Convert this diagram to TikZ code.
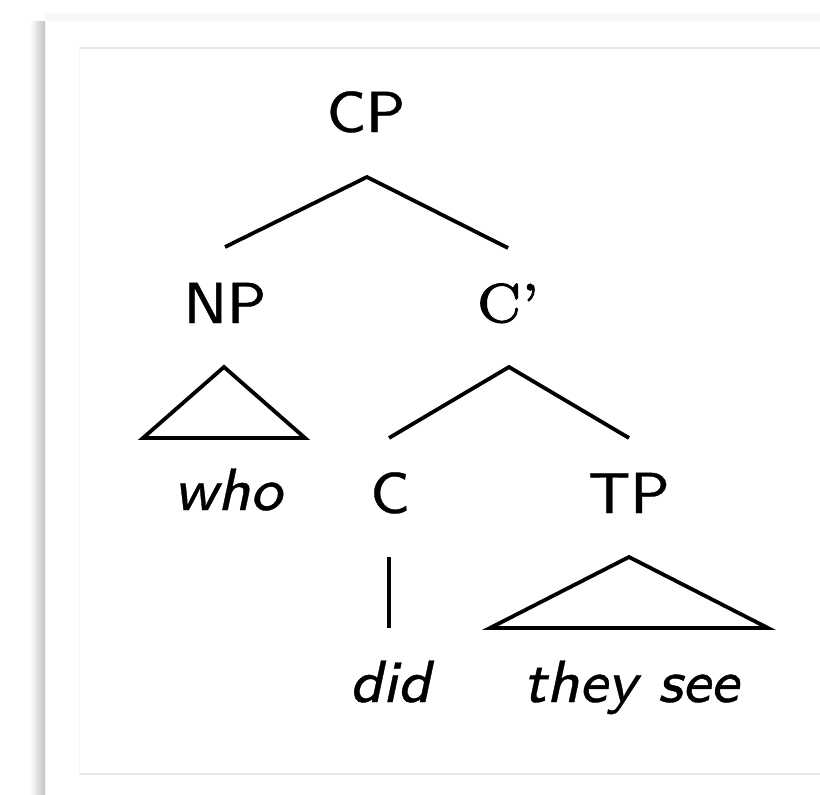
\documentclass[tikz,border=0pt]{standalone}
\usepackage{fontspec}
\newfontfamily\lmsseight[Extension=.otf,FakeBold=0.6,ItalicFont=lmsans8-oblique,ItalicFeatures={FakeBold=0.6}]{lmsans8-regular}
\newfontfamily\lmrseven[Extension=.otf,FakeBold=1.8]{lmroman7-regular}
\begin{document}
\begin{tikzpicture}[x=1bp,y=-1bp,
  lab/.style={anchor=base,inner sep=0pt,font=\fontsize{58}{60}\selectfont\lmsseight},
  word/.style={anchor=base,inner sep=0pt,font=\fontsize{60}{62}\selectfont\lmsseight\itshape},
  branch/.style={line width=3.8bp,line cap=butt,line join=miter},
  rulecol/.style={draw=black!9,line width=1.5bp}]
\useasboundingbox (0,0) rectangle (820,795);
% page and shadow
\shade[left color=white,right color=black!24] (30,22) rectangle (45,795);
\shade[top color=white,bottom color=black!5] (45,12) rectangle (820,16);
\fill[black!3] (45,16) rectangle (820,21);
\draw[rulecol] (79,48) -- (820,48);
\draw[rulecol] (79,774) -- (820,774);
\draw[draw=black!4,line width=1bp] (79,48) -- (79,774);
% labels
\node[lab] (CP) at (366,132) {CP};
\node[lab] (NP) at (225,323) {NP};
\node[lab,font=\fontsize{55}{60}\selectfont\lmrseven] (Cbar) at (508,322) {C’};
\node[lab] (C) at (390,513) {C};
\node[lab] (TP) at (629,513) {TP};
\node[word] (who) at (228,510) {who};
\node[word] (did) at (390,702) {did};
\node[word] (they) at (631,702) {they see};
% branch points
\coordinate (cpb) at (367,177);
\coordinate (npt) at (225,247);
\coordinate (cbt) at (508,248);
\coordinate (cbb) at (509,367);
\coordinate (ct) at (389,438);
\coordinate (tpt) at (629,438);
\coordinate (npa) at (224,367);
\coordinate (npl) at (143,438);
\coordinate (npr) at (305,438);
\coordinate (cv1) at (389,557);
\coordinate (cv2) at (389,628);
\coordinate (tpa) at (629,557);
\coordinate (tpl) at (490,628);
\coordinate (tpr) at (768,628);
% branches
\draw[branch] (npt) -- (cpb) -- (cbt);
\draw[branch] (ct) -- (cbb) -- (tpt);
\draw[branch] (npa) -- (npl) -- (npr) -- cycle;
\draw[branch] (cv1) -- (cv2);
\draw[branch] (tpa) -- (tpl) -- (tpr) -- cycle;
\end{tikzpicture}
\end{document}
